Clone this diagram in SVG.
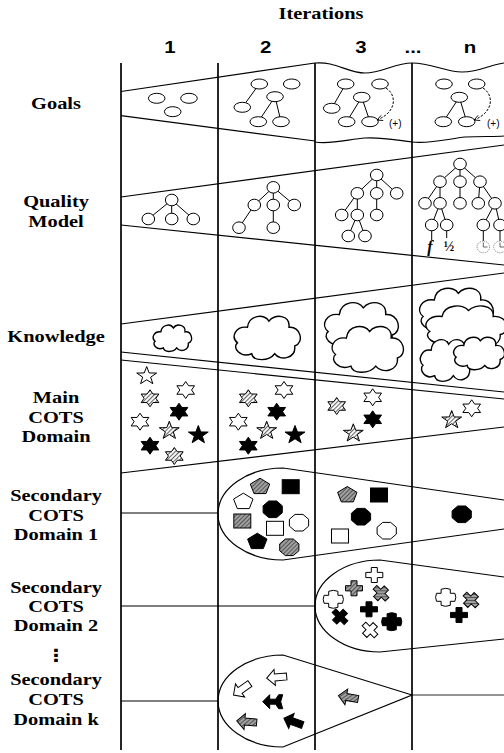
<svg xmlns="http://www.w3.org/2000/svg" xmlns:xlink="http://www.w3.org/1999/xlink" width="504" height="753" viewBox="0 0 504 753">
<style>
.ln{stroke:#000;stroke-width:1.2;fill:none}
.vl{stroke:#000;stroke-width:1.7}
.w{fill:#fff;stroke:#000;stroke-width:1}
.b{fill:#000;stroke:#000;stroke-width:1}
.h{fill:url(#hatch);stroke:#000;stroke-width:1}
.g{fill:url(#ghatch);stroke:#000;stroke-width:1}
.e{stroke:#000;stroke-width:1}
.cl{fill:#fff;stroke:#000;stroke-width:1.4}
.lbl{font-family:"Liberation Serif",serif;font-weight:bold;font-size:17px;text-anchor:middle;fill:#000}
.num{font-family:"Liberation Sans",Arial,sans-serif;font-weight:bold;font-size:17px;text-anchor:middle;fill:#000}
.pl{font-family:"Liberation Sans",Arial,sans-serif;font-size:10px;fill:#000}
</style>
<defs>
<pattern id="hatch" patternUnits="userSpaceOnUse" width="3" height="3" patternTransform="rotate(45)"><rect width="3" height="3" fill="#fff"/><rect width="1.1" height="3" fill="#666"/></pattern>
<pattern id="ghatch" patternUnits="userSpaceOnUse" width="3" height="3" patternTransform="rotate(45)"><rect width="3" height="3" fill="#a0a0a0"/><rect width="1" height="3" fill="#555"/></pattern>
<polygon id="s5" points="0,-9.5 2.46,-3.07 9.94,-2.94 3.97,1.17 6.14,7.69 0,3.8 -6.14,7.69 -3.97,1.17 -9.94,-2.94 -2.46,-3.07"/>
<polygon id="s6" points="0,-8.5 2.94,-4.24 8.83,-4.25 5.88,0 8.83,4.25 2.94,4.24 0,8.5 -2.94,4.24 -8.83,4.25 -5.88,0 -8.83,-4.25 -2.94,-4.24"/>
<polygon id="pent" points="0,-8.5 9.7,-2.63 6,6.88 -6,6.88 -9.7,-2.63"/>
<polygon id="oct" points="3.97,-8.3 9.6,-3.44 9.6,3.44 3.97,8.3 -3.97,8.3 -9.6,3.44 -9.6,-3.44 -3.97,-8.3"/>
<rect id="sq" x="-8.5" y="-7" width="17" height="14"/>
<polygon id="plus" points="-3,-7.5 3,-7.5 3,-2.6 8.5,-2.6 8.5,2.6 3,2.6 3,7.5 -3,7.5 -3,2.6 -8.5,2.6 -8.5,-2.6 -3,-2.6"/>
<polygon id="xs" points="-3,-7.5 3,-7.5 3,-2.6 8.5,-2.6 8.5,2.6 3,2.6 3,7.5 -3,7.5 -3,2.6 -8.5,2.6 -8.5,-2.6 -3,-2.6" transform="rotate(45)"/>
<path id="rc" d="M-4.6,-8 Q0,-10 4.6,-8 L4.6,-4 L9.2,-4 Q11,0 9.2,4 L4.6,4 L4.6,8 Q0,10 -4.6,8 L-4.6,4 L-9.2,4 Q-11,0 -9.2,-4 L-4.6,-4 Z"/>
<polygon id="arL" points="-10,0 -2,-8 -2,-3.5 10,-3.5 10,3.5 -2,3.5 -2,8"/>
<polygon id="fl" points="-10,0 -3,-7 -3,-2.5 3,-2.5 6,-7 10,-7 8,0 10,7 6,7 3,2.5 -3,2.5 -3,7"/>
<path id="cloud" vector-effect="non-scaling-stroke" d="M22,18 C24,2 46,0 52,10 C60,0 82,2 80,18 C96,16 102,38 88,42 C90,58 68,62 60,52 C52,62 30,62 28,52 C12,58 0,44 8,38 C-2,30 6,16 22,18 Z"/>
<marker id="oa" viewBox="0 0 10 10" refX="9" refY="5" markerWidth="7" markerHeight="7" orient="auto"><path d="M1,1 L9,5 L1,9" fill="none" stroke="#000" stroke-width="1.2"/></marker>
</defs>
<rect width="504" height="753" fill="#fff"/>

<g id="labels">
<g transform="scale(1.2,1)">
<text class="lbl" x="267.5" y="19">Iterations</text>
<text class="num" x="141.7" y="53">1</text>
<text class="num" x="221.4" y="53">2</text>
<text class="num" x="300.8" y="53">3</text>
<text class="num" x="344.2" y="53">...</text>
<text class="num" x="391.7" y="53">n</text>
<text class="lbl" x="46.7" y="109">Goals</text>
<text class="lbl" x="46.7" y="207">Quality</text>
<text class="lbl" x="46.7" y="227">Model</text>
<text class="lbl" x="46.7" y="342">Knowledge</text>
<text class="lbl" x="46.7" y="403">Main</text>
<text class="lbl" x="46.7" y="423">COTS</text>
<text class="lbl" x="46.7" y="442">Domain</text>
<text class="lbl" x="46.7" y="501">Secondary</text>
<text class="lbl" x="46.7" y="521">COTS</text>
<text class="lbl" x="46.7" y="540">Domain 1</text>
<text class="lbl" x="46.7" y="593">Secondary</text>
<text class="lbl" x="46.7" y="612">COTS</text>
<text class="lbl" x="46.7" y="631">Domain 2</text>
<text class="lbl" x="46.7" y="661" style="font-family:'DejaVu Sans',sans-serif">⋮</text>
<text class="lbl" x="46.7" y="685">Secondary</text>
<text class="lbl" x="46.7" y="705">COTS</text>
<text class="lbl" x="46.7" y="725">Domain k</text>
</g>
</g>

<g id="bands">
<path class="ln" d="M121,91.5 L315,63"/>
<path class="ln" d="M121,115.7 L315,141"/>
<path class="ln" d="M315,63 C335,61 348,73 365,73 C382,73 395,63 412,63 C432,63 445,72 462,72 C480,72 492,64 504,63"/>
<path class="ln" d="M315,142 C330,145 350,139 365,138 C385,137 400,141 412,142 C430,144 448,139 465,137 C482,136 495,137 504,136"/>
<path class="ln" d="M121,197 L504,145"/>
<path class="ln" d="M121,225 L504,265"/>
<path class="ln" d="M121,324 L504,273"/>
<path class="ln" d="M121,352 L504,392"/>
<path class="ln" d="M121,360 L504,399"/>
<path class="ln" d="M121,473 L504,427"/>
<path class="ln" d="M504,500 L283,468 A65,46 0 0 0 283,560 L504,529"/>
<path class="ln" d="M121,513 L218,513"/>
<path class="ln" d="M504,577 L380,560 A65,46 0 0 0 380,652 L504,639"/>
<path class="ln" d="M121,606 L315,606"/>
<path class="ln" d="M412,695 L283,655 A65,46 0 0 0 283,747 Z"/>
<path d="M412,695 L504,695" stroke="#707070" stroke-width="1.6" fill="none"/>
<path class="ln" d="M121,701 L218,701"/>
</g>

<g id="goals">
<g class="e">
<line x1="259.3" y1="84" x2="242.3" y2="107.3"/>
<line x1="275" y1="96.7" x2="258.3" y2="121.7"/>
<line x1="275" y1="96.7" x2="281" y2="121.7"/>
<line x1="345.7" y1="84" x2="331.7" y2="108.3"/>
<line x1="361.7" y1="97.3" x2="346.7" y2="121.7"/>
<line x1="361.7" y1="97.3" x2="370" y2="121.7"/>
<line x1="459.3" y1="97.3" x2="443.3" y2="121.7"/>
<line x1="459.3" y1="97.3" x2="466.7" y2="121.7"/>
</g>
<g class="w">
<ellipse cx="156.7" cy="98.3" rx="8.3" ry="5"/>
<ellipse cx="189" cy="98.3" rx="8.3" ry="5"/>
<ellipse cx="172.7" cy="111.7" rx="8.3" ry="5"/>
<ellipse cx="259.3" cy="84" rx="8.3" ry="5"/>
<ellipse cx="291.7" cy="84" rx="8.3" ry="5"/>
<ellipse cx="275" cy="96.7" rx="8.3" ry="5"/>
<ellipse cx="242.3" cy="107.3" rx="8.3" ry="5"/>
<ellipse cx="258.3" cy="121.7" rx="8.3" ry="5"/>
<ellipse cx="281" cy="121.7" rx="8.3" ry="5"/>
<ellipse cx="345.7" cy="84" rx="8.3" ry="5"/>
<ellipse cx="380" cy="84" rx="8.3" ry="5"/>
<ellipse cx="361.7" cy="97.3" rx="8.3" ry="5"/>
<ellipse cx="331.7" cy="108.3" rx="8.3" ry="5"/>
<ellipse cx="346.7" cy="121.7" rx="8.3" ry="5"/>
<ellipse cx="370" cy="121.7" rx="8.3" ry="5"/>
<ellipse cx="444" cy="84" rx="8.3" ry="5"/>
<ellipse cx="476.7" cy="84" rx="8.3" ry="5"/>
<ellipse cx="459.3" cy="97.3" rx="8.3" ry="5"/>
<ellipse cx="443.3" cy="121.7" rx="8.3" ry="5"/>
<ellipse cx="466.7" cy="121.7" rx="8.3" ry="5"/>
</g>
<path d="M386,88 C397,95 397,112 377,120" fill="none" stroke="#000" stroke-width="1" stroke-dasharray="2.5,1.5" marker-end="url(#oa)"/>
<path d="M483,88 C494,95 494,112 474,120" fill="none" stroke="#000" stroke-width="1" stroke-dasharray="2.5,1.5" marker-end="url(#oa)"/>
<text class="pl" x="389" y="127">(+)</text>
<text class="pl" x="487" y="127">(+)</text>
</g>

<g id="quality">
<g class="e">
<line x1="171.7" y1="200" x2="148.3" y2="219"/><line x1="171.7" y1="200" x2="171.7" y2="219"/><line x1="171.7" y1="200" x2="193.3" y2="219"/>
<line x1="273.3" y1="187.3" x2="254.3" y2="205"/><line x1="273.3" y1="187.3" x2="273.3" y2="205"/><line x1="273.3" y1="187.3" x2="294.3" y2="205"/>
<line x1="254.3" y1="205" x2="239" y2="227.7"/><line x1="273.3" y1="205" x2="273.3" y2="227.7"/>
<line x1="376.7" y1="175" x2="357.3" y2="193.3"/><line x1="376.7" y1="175" x2="376.7" y2="193.3"/><line x1="376.7" y1="175" x2="396.7" y2="193.3"/>
<line x1="357.3" y1="193.3" x2="341.7" y2="215"/><line x1="357.3" y1="193.3" x2="357.3" y2="215"/><line x1="376.7" y1="193.3" x2="376.7" y2="215"/>
<line x1="357.3" y1="215" x2="348.3" y2="236"/><line x1="357.3" y1="215" x2="365" y2="236"/>
<line x1="460" y1="164" x2="440" y2="181.7"/><line x1="460" y1="164" x2="460" y2="181.7"/><line x1="460" y1="164" x2="480" y2="181.7"/>
<line x1="440" y1="181.7" x2="425" y2="203.3"/><line x1="440" y1="181.7" x2="440" y2="203.3"/><line x1="460" y1="181.7" x2="460" y2="203.3"/>
<line x1="480" y1="181.7" x2="478.3" y2="203.3"/><line x1="480" y1="181.7" x2="495" y2="203.3"/>
<line x1="440" y1="203.3" x2="431.7" y2="225"/><line x1="440" y1="203.3" x2="446.7" y2="225"/>
<line x1="495" y1="203.3" x2="483.3" y2="225"/><line x1="495" y1="203.3" x2="500" y2="225"/>
<line x1="431.7" y1="225" x2="431.7" y2="240"/><line x1="446.7" y1="225" x2="446.7" y2="238"/>
<line x1="483.3" y1="225" x2="483.3" y2="241"/><line x1="500" y1="225" x2="500" y2="241"/>
</g>
<g class="w">
<ellipse cx="171.7" cy="200" rx="6.3" ry="5.8"/><ellipse cx="148.3" cy="219" rx="6.3" ry="5.8"/><ellipse cx="171.7" cy="219" rx="6.3" ry="5.8"/><ellipse cx="193.3" cy="219" rx="6.3" ry="5.8"/>
<ellipse cx="273.3" cy="187.3" rx="6.3" ry="5.8"/><ellipse cx="254.3" cy="205" rx="6.3" ry="5.8"/><ellipse cx="273.3" cy="205" rx="6.3" ry="5.8"/><ellipse cx="294.3" cy="205" rx="6.3" ry="5.8"/><ellipse cx="239" cy="227.7" rx="6.3" ry="5.8"/><ellipse cx="273.3" cy="227.7" rx="6.3" ry="5.8"/>
<ellipse cx="376.7" cy="175" rx="6.3" ry="5.8"/><ellipse cx="357.3" cy="193.3" rx="6.3" ry="5.8"/><ellipse cx="376.7" cy="193.3" rx="6.3" ry="5.8"/><ellipse cx="396.7" cy="193.3" rx="6.3" ry="5.8"/><ellipse cx="341.7" cy="215" rx="6.3" ry="5.8"/><ellipse cx="357.3" cy="215" rx="6.3" ry="5.8"/><ellipse cx="376.7" cy="215" rx="6.3" ry="5.8"/><ellipse cx="348.3" cy="236" rx="6.3" ry="5.8"/><ellipse cx="365" cy="236" rx="6.3" ry="5.8"/>
<ellipse cx="460" cy="164" rx="6.3" ry="5.8"/><ellipse cx="440" cy="181.7" rx="6.3" ry="5.8"/><ellipse cx="460" cy="181.7" rx="6.3" ry="5.8"/><ellipse cx="480" cy="181.7" rx="6.3" ry="5.8"/>
<ellipse cx="425" cy="203.3" rx="6.3" ry="5.8"/><ellipse cx="440" cy="203.3" rx="6.3" ry="5.8"/><ellipse cx="460" cy="203.3" rx="6.3" ry="5.8"/><ellipse cx="478.3" cy="203.3" rx="6.3" ry="5.8"/><ellipse cx="495" cy="203.3" rx="6.3" ry="5.8"/>
<ellipse cx="431.7" cy="225" rx="6.3" ry="5.8"/><ellipse cx="446.7" cy="225" rx="6.3" ry="5.8"/><ellipse cx="483.3" cy="225" rx="6.3" ry="5.8"/><ellipse cx="500" cy="225" rx="6.3" ry="5.8"/>
</g>
<text x="430" y="252" style="font-family:'Liberation Serif',serif;font-weight:bold;font-style:italic;font-size:16px" text-anchor="middle">f</text>
<text x="449" y="251" style="font-family:'Liberation Serif',serif;font-weight:bold;font-size:14px" text-anchor="middle">½</text>
<g fill="#fff" stroke="#777" stroke-width="0.9">
<ellipse cx="483.3" cy="247" rx="6.3" ry="5.8" stroke-dasharray="1.2,1"/>
<ellipse cx="500" cy="247" rx="6.3" ry="5.8" stroke-dasharray="1.2,1"/>
<path d="M483.3,242.5 V247 H487.5 M500,242.5 V247 H504" fill="none" stroke="#555"/>
</g>
</g>

<g id="knowledge">
<use href="#cloud" class="cl" transform="translate(151.7,323.3) scale(0.416,0.473)"/>
<use href="#cloud" class="cl" transform="translate(231.7,313.3) scale(0.716,0.778)"/>
<use href="#cloud" class="cl" transform="translate(321.7,299.3) scale(0.8,0.85)"/>
<use href="#cloud" class="cl" transform="translate(329.3,323.3) scale(0.774,0.823)"/>
<use href="#cloud" class="cl" transform="translate(416.7,285) scale(0.8,0.83)"/>
<use href="#cloud" class="cl" transform="translate(422.7,303) scale(0.88,0.75)"/>
<use href="#cloud" class="cl" transform="translate(418.3,336.7) scale(0.584,0.75)"/>
<use href="#cloud" class="cl" transform="translate(451.7,335) scale(0.55,0.583)"/>
</g>

<g id="main-cots">
<use href="#s5" class="w" x="146.7" y="376"/>
<use href="#s6" class="w" x="185.7" y="390"/>
<use href="#s6" class="h" x="150" y="398.3"/>
<use href="#s6" class="b" x="179" y="411.7"/>
<use href="#s6" class="w" x="140" y="421.7"/>
<use href="#s5" class="h" x="169.3" y="430.7"/>
<use href="#s5" class="b" x="198.3" y="435"/>
<use href="#s6" class="b" x="150" y="445.7"/>
<use href="#s6" class="h" x="174.3" y="456"/>
<use href="#s6" class="w" x="284" y="390"/>
<use href="#s6" class="h" x="248.3" y="398.3"/>
<use href="#s6" class="b" x="276.7" y="411.7"/>
<use href="#s6" class="w" x="238.3" y="421.7"/>
<use href="#s5" class="h" x="266.7" y="430.7"/>
<use href="#s5" class="b" x="295" y="435"/>
<use href="#s6" class="b" x="248.3" y="445.7"/>
<use href="#s6" class="w" x="372.7" y="397.3"/>
<use href="#s6" class="h" x="336.7" y="406"/>
<use href="#s6" class="b" x="372.7" y="419.3"/>
<use href="#s5" class="h" x="353.3" y="433.3"/>
<use href="#s6" class="w" x="471.7" y="408.3"/>
<use href="#s5" class="h" x="451.7" y="420"/>
</g>

<g id="domain-1">
<use href="#pent" class="g" x="260" y="486.7"/>
<use href="#sq" class="b" x="290.7" y="486.7"/>
<use href="#pent" class="w" x="243.3" y="501.7"/>
<use href="#oct" class="b" x="272.7" y="509.3"/>
<use href="#sq" class="g" x="242.3" y="521"/>
<use href="#sq" class="w" x="275" y="528.3"/>
<use href="#oct" class="w" x="299" y="522.7"/>
<use href="#pent" class="b" x="257.3" y="541.7"/>
<use href="#oct" class="g" x="289.3" y="547.3"/>
<use href="#pent" class="g" x="347.3" y="495"/>
<use href="#sq" class="b" x="379" y="495"/>
<use href="#oct" class="b" x="361" y="516.7"/>
<use href="#sq" class="w" x="340" y="536"/>
<use href="#oct" class="w" x="386.7" y="530.7"/>
<use href="#oct" class="b" x="461.7" y="514.3"/>
</g>

<g id="domain-2">
<use href="#plus" class="w" x="374.3" y="575"/>
<use href="#plus" class="g" x="354" y="588.3"/>
<use href="#xs" class="g" x="381" y="593.3"/>
<use href="#rc" class="w" x="333.3" y="599.3"/>
<use href="#xs" class="b" x="340" y="616.7"/>
<use href="#plus" class="b" x="369" y="609.3"/>
<use href="#rc" class="b" x="391.7" y="621.7"/>
<use href="#xs" class="w" x="370" y="630"/>
<use href="#rc" class="w" x="445.7" y="597.3"/>
<use href="#xs" class="g" x="471" y="600"/>
<use href="#plus" class="b" x="459" y="615"/>
</g>

<g id="domain-k">
<use href="#arL" class="w" transform="translate(276.7,677.3) rotate(-5)"/>
<use href="#arL" class="w" transform="translate(241.7,689.3) rotate(-35)"/>
<use href="#fl" class="b" transform="translate(272.7,701.7)"/>
<use href="#arL" class="g" transform="translate(246.7,721.7) rotate(5)"/>
<use href="#arL" class="b" transform="translate(293.3,721.7) rotate(20)"/>
<use href="#arL" class="g" transform="translate(348.3,697.3) rotate(10)"/>
</g>

<g id="columns">
<line class="vl" x1="121" y1="63" x2="121" y2="750"/>
<line class="vl" x1="218" y1="63" x2="218" y2="750"/>
<line class="vl" x1="315" y1="63" x2="315" y2="750"/>
<line class="vl" x1="412" y1="63" x2="412" y2="750"/>
</g>
</svg>
